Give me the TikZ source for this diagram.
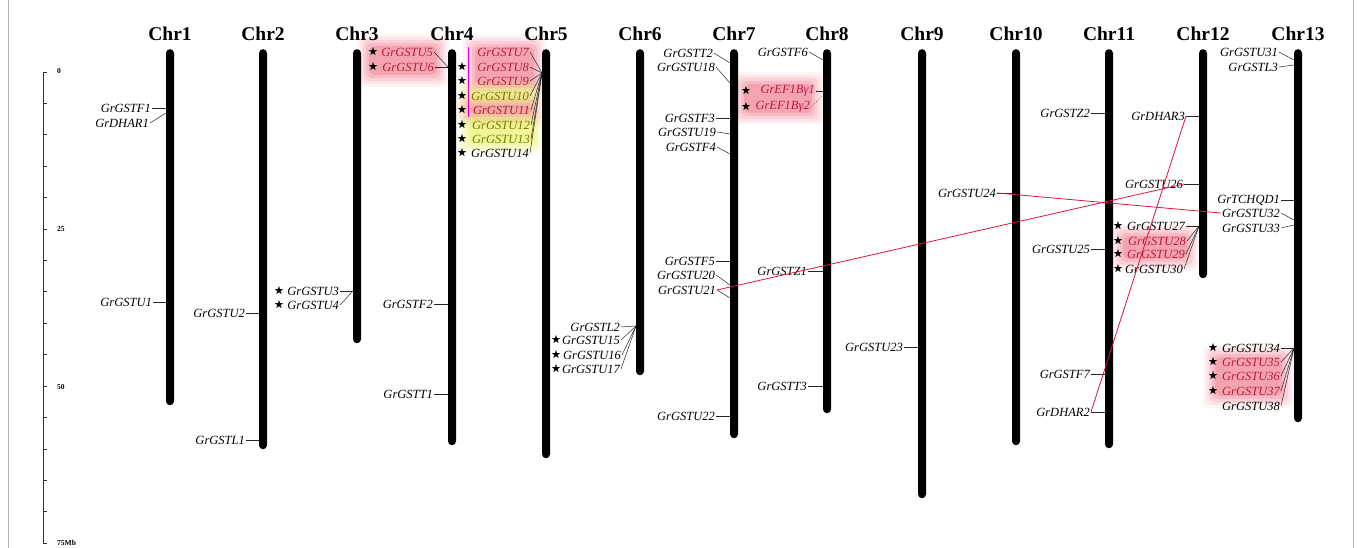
\documentclass[tikz,border=0pt]{standalone}
\usepackage{fontspec}
\setmainfont{Liberation Serif}
\usepackage{amssymb}
\usetikzlibrary{positioning}

\definecolor{genred}{RGB}{185,25,60}
\definecolor{genolive}{RGB}{115,125,0}
\definecolor{synred}{RGB}{220,20,60}
\definecolor{glowred}{RGB}{232,70,95}
\definecolor{glowyel}{RGB}{225,235,40}
\definecolor{hilite}{RGB}{230,0,200}

\newcommand{\glowbox}[5]{%
  \foreach \d/\o in {9/.06,6/.09,3/.12,0/.15,-3/.2}
    \fill[#5,opacity=\o,rounded corners=6pt] (#1-\d,#2-\d) rectangle (#3+\d,#4+\d);}

\begin{document}
\begin{tikzpicture}[x=1pt,y=-1pt,
  chrom/.style={fill=black,rounded corners=3.9pt,minimum width=8pt,inner sep=0pt,anchor=north},
  chrname/.style={font=\bfseries\fontsize{19.5}{21}\selectfont,inner sep=0pt},
  gene/.style={font=\itshape\fontsize{12.5}{14}\selectfont,anchor=east,inner sep=1pt},
  tag/.style={font=\fontsize{10}{10}\selectfont,inner sep=0pt},
  scalelab/.style={font=\bfseries\fontsize{7.5}{8}\selectfont,anchor=west,inner sep=0pt},
  link/.style={draw=black!85,line width=0.5pt},
  syn/.style={draw=synred,line width=0.8pt}]
  \useasboundingbox (0,0) rectangle (1358,548);
  \draw[gray!60,line width=1pt] (8,0) -- (8,548) (1353,0) -- (1353,548);

  \glowbox{366}{43}{440}{78}{glowred}
  \glowbox{472}{44}{537}{88}{glowred}
  \glowbox{466}{89}{535}{103}{glowyel}
  \glowbox{466}{103}{535}{117}{glowred}
  \glowbox{466}{117}{537}{146}{glowyel}
  \glowbox{741}{81}{815}{116}{glowred}
  \glowbox{1120}{233}{1190}{262}{glowred}
  \glowbox{1212}{354}{1285}{399}{glowred}

  \draw[black!80,line width=0.6pt] (43,72) -- (43,543);
  \foreach \t in {0,5,...,75}
    \draw[black!80,line width=0.6pt] (43,72+6.28*\t) -- ++(4,0);
  \node[scalelab] (mb0) at (57,71) {0};
  \node[scalelab] (mb25) at (57,229) {25};
  \node[scalelab] (mb50) at (57,387) {50};
  \node[scalelab] (mb75) at (57,543) {75Mb};

  \foreach \n/\x/\len in {1/170/356,2/263/400,3/357/294,4/452/396,5/546/409,6/640/326,
      7/734/389,8/827/364,9/922/449,10/1016/396,11/1109/399,12/1203/229,13/1298/373}{
    \node[chrom,minimum height=\len pt] (chr\n) at (\x,49) {};
    \node[chrname,above=8pt of chr\n] (name\n) {Chr\n};
  }

  \node[gene] (gstf1) at (152,108) {GrGSTF1};
  \node[gene] (dhar1) at (150,123) {GrDHAR1};
  \node[gene] (gstu1) at (153,302) {GrGSTU1};
  \coordinate (j1) at (166,113);
  \draw[link] (gstf1.east) -- (gstf1 -| chr1.west);
  \draw[link] (dhar1.east) -- (j1);
  \draw[link] (gstu1.east) -- (gstu1 -| chr1.west);

  \node[gene] (gstu2) at (246,313) {GrGSTU2};
  \node[gene] (gstl1) at (246,440) {GrGSTL1};
  \draw[link] (gstu2.east) -- (gstu2 -| chr2.west);
  \draw[link] (gstl1.east) -- (gstl1 -| chr2.west);

  \node[tag] (s3) at (279,291) {$\bigstar$};
  \node[tag] (s4) at (279,305) {$\bigstar$};
  \node[gene] (gstu3) at (340,291) {GrGSTU3};
  \node[gene] (gstu4) at (340,305) {GrGSTU4};
  \coordinate (j3) at (353,291);
  \draw[link] (gstu3.east) -- (j3);
  \draw[link] (gstu4.east) -- (j3);

  \node[tag] (s5) at (373,52) {$\bigstar$};
  \node[tag] (s6) at (373,67) {$\bigstar$};
  \node[gene,genred] (gstu5) at (434,52) {GrGSTU5};
  \node[gene,genred] (gstu6) at (435,67) {GrGSTU6};
  \node[gene] (gstf2) at (434,304) {GrGSTF2};
  \node[gene] (gstt1) at (434,394) {GrGSTT1};
  \coordinate (j4) at (448,67);
  \draw[link] (gstu5.east) -- (j4);
  \draw[link] (gstu6.east) -- (j4);
  \draw[link] (gstf2.east) -- (gstf2 -| chr4.west);
  \draw[link] (gstt1.east) -- (gstt1 -| chr4.west);

  \draw[hilite,line width=1pt] (468,47) -- (468,117);
  \foreach \i/\y in {8/67,9/81,10/96,11/110,12/125,13/139,14/153}
    \node[tag] (s\i) at (462,\y) {$\bigstar$};
  \node[gene,genred] (gstu7) at (530,52) {GrGSTU7};
  \node[gene,genred] (gstu8) at (530,67) {GrGSTU8};
  \node[gene,genred] (gstu9) at (530,81) {GrGSTU9};
  \node[gene,genolive] (gstu10) at (530,96) {GrGSTU10};
  \node[gene,genred] (gstu11) at (531,110) {GrGSTU11};
  \node[gene,genolive] (gstu12) at (531,125) {GrGSTU12};
  \node[gene,genolive] (gstu13) at (531,139) {GrGSTU13};
  \node[gene] (gstu14) at (530,153) {GrGSTU14};
  \coordinate (j5) at (542,73);
  \foreach \i in {7,...,14}
    \draw[link] (gstu\i.east) -- (j5);

  \foreach \i/\y in {15/340,16/355,17/369}
    \node[tag] (s\i) at (556,\y) {$\bigstar$};
  \node[gene] (gstl2) at (621,327) {GrGSTL2};
  \node[gene] (gstu15) at (621,340) {GrGSTU15};
  \node[gene] (gstu16) at (622,355) {GrGSTU16};
  \node[gene] (gstu17) at (621,369) {GrGSTU17};
  \coordinate (j6) at (636,326);
  \foreach \g in {gstl2,gstu15,gstu16,gstu17}
    \draw[link] (\g.east) -- (j6);

  \node[gene] (gstt2) at (714,53) {GrGSTT2};
  \node[gene] (gstu18) at (716,67) {GrGSTU18};
  \node[gene] (gstf3) at (716,118) {GrGSTF3};
  \node[gene] (gstu19) at (717,132) {GrGSTU19};
  \node[gene] (gstf4) at (717,147) {GrGSTF4};
  \node[gene] (gstf5) at (716,261) {GrGSTF5};
  \node[gene] (gstu20) at (716,275) {GrGSTU20};
  \node[gene] (gstu21) at (717,290) {GrGSTU21};
  \node[gene] (gstu22) at (716,416) {GrGSTU22};
  \coordinate (j7a) at (730,63);
  \coordinate (j7b) at (730,83);
  \coordinate (j7c) at (730,134);
  \coordinate (j7d) at (730,154);
  \coordinate (j7e) at (730,285);
  \coordinate (j7f) at (730,298);
  \draw[link] (gstt2.east) -- (j7a);
  \draw[link] (gstu18.east) -- (j7b);
  \draw[link] (gstf3.east) -- (gstf3 -| chr7.west);
  \draw[link] (gstu19.east) -- (j7c);
  \draw[link] (gstf4.east) -- (j7d);
  \draw[link] (gstf5.east) -- (gstf5 -| chr7.west);
  \draw[link] (gstu20.east) -- (j7e);
  \draw[link] (gstu21.east) -- (j7f);
  \draw[link] (gstu22.east) -- (gstu22 -| chr7.west);

  \node[tag] (sef1) at (746,91) {$\bigstar$};
  \node[tag] (sef2) at (746,107) {$\bigstar$};
  \node[gene] (gstf6) at (809,52) {GrGSTF6};
  \node[gene,genred] (ef1) at (816,91) {GrEF1Bγ1};
  \node[gene,genred] (ef2) at (811,107) {GrEF1Bγ2};
  \node[gene] (gstz1) at (808,271) {GrGSTZ1};
  \node[gene] (gstt3) at (808,386) {GrGSTT3};
  \coordinate (j8a) at (823,60);
  \coordinate (j8b) at (822,96);
  \draw[link] (gstf6.east) -- (j8a);
  \draw[link] (ef1.east) -- (ef1 -| chr8.west);
  \draw[link,dotted] (ef2.east) -- (j8b);
  \draw[link] (gstz1.east) -- (gstz1 -| chr8.west);
  \draw[link] (gstt3.east) -- (gstt3 -| chr8.west);

  \node[gene] (gstu23) at (904,347) {GrGSTU23};
  \draw[link] (gstu23.east) -- (gstu23 -| chr9.west);

  \node[gene] (gstu24) at (997,193) {GrGSTU24};
  \draw[link] (gstu24.east) -- (gstu24 -| chr10.west);

  \node[gene] (gstz2) at (1091,113) {GrGSTZ2};
  \node[gene] (gstu25) at (1091,249) {GrGSTU25};
  \node[gene] (gstf7) at (1091,374) {GrGSTF7};
  \node[gene] (dhar2) at (1091,412) {GrDHAR2};
  \foreach \g in {gstz2,gstu25,gstf7,dhar2}
    \draw[link] (\g.east) -- (\g -| chr11.west);

  \foreach \i/\y in {27/226,28/241,29/254,30/269}
    \node[tag] (s\i) at (1118,\y) {$\bigstar$};
  \node[gene] (dhar3) at (1186,116) {GrDHAR3};
  \node[gene] (gstu26) at (1184,184) {GrGSTU26};
  \node[gene] (gstu27) at (1186,226) {GrGSTU27};
  \node[gene,genred] (gstu28) at (1187,241) {GrGSTU28};
  \node[gene,genred] (gstu29) at (1186,254) {GrGSTU29};
  \node[gene] (gstu30) at (1184,269) {GrGSTU30};
  \coordinate (j12) at (1199,226);
  \draw[link] (dhar3.east) -- (dhar3 -| chr12.west);
  \draw[link] (gstu26.east) -- (gstu26 -| chr12.west);
  \foreach \i in {27,...,30}
    \draw[link] (gstu\i.east) -- (j12);

  \foreach \i/\y in {34/348,35/362,36/376,37/391}
    \node[tag] (s\i) at (1213,\y) {$\bigstar$};
  \node[gene] (gstu31) at (1279,52) {GrGSTU31};
  \node[gene] (gstl3) at (1279,67) {GrGSTL3};
  \node[gene] (tchqd1) at (1281,200) {GrTCHQD1};
  \node[gene] (gstu32) at (1281,213) {GrGSTU32};
  \node[gene] (gstu33) at (1281,228) {GrGSTU33};
  \node[gene] (gstu34) at (1281,348) {GrGSTU34};
  \node[gene,genred] (gstu35) at (1281,362) {GrGSTU35};
  \node[gene,genred] (gstu36) at (1281,376) {GrGSTU36};
  \node[gene,genred] (gstu37) at (1281,391) {GrGSTU37};
  \node[gene] (gstu38) at (1281,406) {GrGSTU38};
  \coordinate (j13a) at (1294,60);
  \coordinate (j13b) at (1294,65);
  \coordinate (j13c) at (1294,220);
  \coordinate (j13d) at (1294,225);
  \coordinate (j13e) at (1294,348);
  \draw[link] (gstu31.east) -- (j13a);
  \draw[link] (gstl3.east) -- (j13b);
  \draw[link] (tchqd1.east) -- (tchqd1 -| chr13.west);
  \draw[link] (gstu32.east) -- (j13c);
  \draw[link] (gstu33.east) -- (j13d);
  \foreach \i in {34,...,38}
    \draw[link] (gstu\i.east) -- (j13e);

  \draw[syn] (gstu21.east) -- (gstu26.east);
  \draw[syn] (gstu24.east) -- (gstu32.west);
  \draw[syn] (dhar2.east) -- (dhar3.east);
\end{tikzpicture}
\end{document}
